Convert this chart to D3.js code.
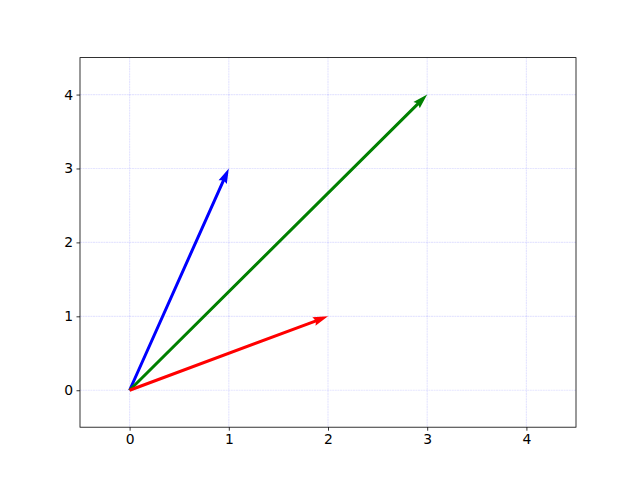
<!DOCTYPE html>
<html>
<head>
<meta charset="utf-8">
<script src="https://cdn.jsdelivr.net/npm/d3@7"></script>
<style>
  body { margin: 0; background: #fff; }
  text { font-family: "DejaVu Sans", sans-serif; }
</style>
</head>
<body>
<svg id="chart" width="640" height="480"></svg>
<script>
// vectors from origin
const originsX = [0, 0, 0];
const originsY = [0, 0, 0];
const vectorsU = [1, 3, 2];
const vectorsV = [3, 4, 1];
const vectorColors = ['blue', 'green', 'red'];
const xTicks = [0, 1, 2, 3, 4];
const yTicks = [0, 1, 2, 3, 4];

const svg = d3.select('#chart');
const margin = { top: 57.6, bottom: 52.8, left: 80, right: 64 };
const width = +svg.attr('width');
const height = +svg.attr('height');
const innerWidth = width - margin.left - margin.right;
const innerHeight = height - margin.top - margin.bottom;

const xScale = d3.scaleLinear().domain([-0.5, 4.5]).range([0, innerWidth]);
const yScale = d3.scaleLinear().domain([-0.5, 4.5]).range([innerHeight, 0]);

const g = svg.append('g')
    .attr('transform', `translate(${margin.left}, ${margin.top})`);

// grid
const gridG = g.append('g');
gridG.selectAll('.vgrid').data(xTicks).enter().append('line')
    .attr('x1', d => xScale(d)).attr('x2', d => xScale(d))
    .attr('y1', 0).attr('y2', innerHeight)
    .attr('stroke', 'blue').attr('stroke-opacity', 0.1).attr('stroke-width', 1.2)
    .attr('stroke-dasharray', '2,0.6');
gridG.selectAll('.hgrid').data(yTicks).enter().append('line')
    .attr('y1', d => yScale(d)).attr('y2', d => yScale(d))
    .attr('x1', 0).attr('x2', innerWidth)
    .attr('stroke', 'blue').attr('stroke-opacity', 0.1).attr('stroke-width', 1.2)
    .attr('stroke-dasharray', '2,0.6');

// quiver arrows
const shaft = 3;
const headLen = shaft * 5, headAxis = shaft * 4.5, headHalf = shaft * 1.5;
const arrows = originsX.map((x, i) => ({
    x0: x, y0: originsY[i], u: vectorsU[i], v: vectorsV[i], color: vectorColors[i]
}));

g.selectAll('.arrow').data(arrows).enter().append('polygon')
    .attr('fill', d => d.color)
    .attr('points', d => {
        const px = xScale(d.x0), py = yScale(d.y0);
        const qx = xScale(d.x0 + d.u), qy = yScale(d.y0 + d.v);
        const L = Math.hypot(qx - px, qy - py);
        const pts = [
            [0, -shaft / 2], [L - headAxis, -shaft / 2], [L - headLen, -headHalf],
            [L, 0], [L - headLen, headHalf], [L - headAxis, shaft / 2], [0, shaft / 2]
        ];
        const a = Math.atan2(qy - py, qx - px);
        const c = Math.cos(a), s = Math.sin(a);
        return pts.map(([x, y]) => [px + x * c - y * s, py + x * s + y * c].join(',')).join(' ');
    });

// axes
const xAxis = d3.axisBottom(xScale).tickValues(xTicks).tickFormat(d3.format('d')).tickSize(3.5).tickPadding(3.5);
const yAxis = d3.axisLeft(yScale).tickValues(yTicks).tickFormat(d3.format('d')).tickSize(3.5).tickPadding(3.5);

const xAxisG = g.append('g').attr('transform', `translate(0, ${innerHeight})`).call(xAxis);
const yAxisG = g.append('g').call(yAxis);
[xAxisG, yAxisG].forEach(a => {
    a.select('.domain').remove();
    a.selectAll('.tick line').attr('stroke', 'black').attr('stroke-width', 0.8);
    a.selectAll('.tick text').attr('fill', 'black').style('font-size', '13.9px')
        .style('font-family', '"DejaVu Sans", sans-serif');
});

// frame
g.append('rect')
    .attr('width', innerWidth).attr('height', innerHeight)
    .attr('fill', 'none').attr('stroke', 'black').attr('stroke-width', 0.8);
</script>
</body>
</html>
